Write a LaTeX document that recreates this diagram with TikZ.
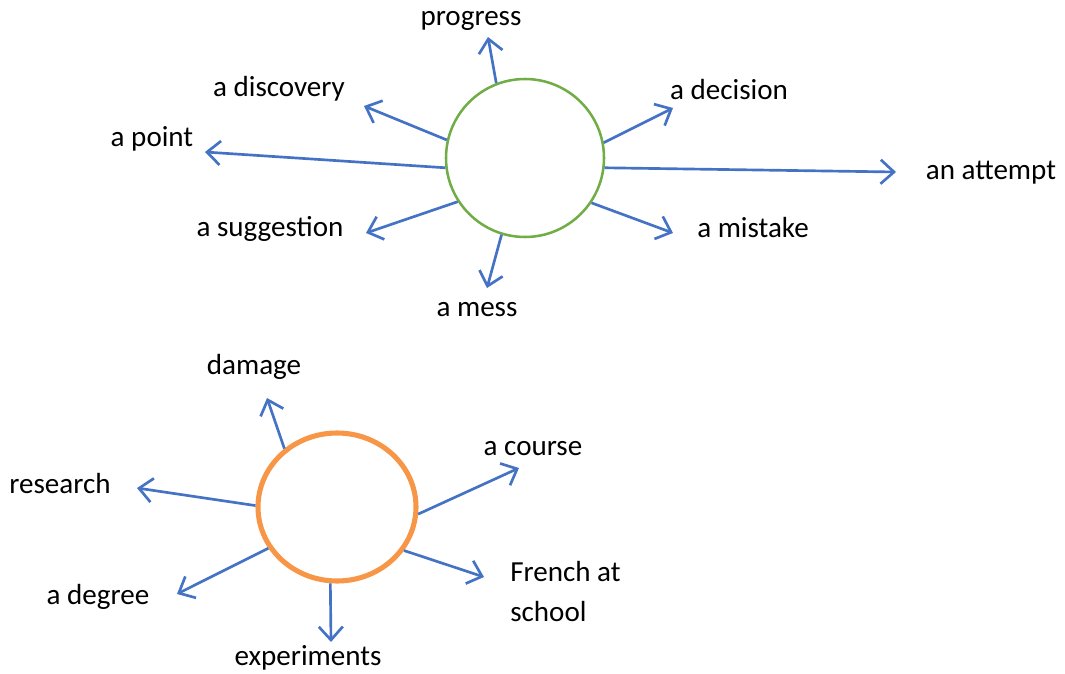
\documentclass[tikz,border=0pt]{standalone}
\usepackage{fontspec}
\setmainfont{Carlito}
\usetikzlibrary{arrows.meta, shapes.geometric}

\definecolor{arrowblue}{RGB}{68,114,196}
\definecolor{ringgreen}{RGB}{112,173,71}
\definecolor{ringorange}{RGB}{247,150,70}

\tikzset{
  word/.style={font=\fontsize{21.8}{30}\selectfont, inner sep=0pt, yshift=-2pt},
  pointer/.style={draw=arrowblue, line width=2pt, -{Straight Barb[length=10pt, width=18pt, line width=2pt]}},
}

\begin{document}
\begin{tikzpicture}[x=0.75pt, y=-0.75pt]
  \useasboundingbox (0,0) rectangle (1065,674);
  % upper ring
  \node [circle, draw=ringgreen, line width=1.9pt, minimum size=118.5pt, inner sep=0pt] (make) at (525,158) {};
  \node [word] (progress) at (471,18) {progress};
  \node [word] (discovery) at (279,86) {a discovery};
  \node [word] (point) at (152,136) {a point};
  \node [word] (suggestion) at (270,226) {a suggestion};
  \node [word] (mess) at (477,307) {a mess};
  \node [word] (mistake) at (753,225) {a mistake};
  \node [word] (attempt) at (991,170) {an attempt};
  \node [word] (decision) at (729,87) {a decision};
  \coordinate (progress tip) at (488,37);
  \coordinate (discovery tip) at (364,106);
  \coordinate (point tip) at (205,152);
  \coordinate (suggestion tip) at (366,233);
  \coordinate (mess tip) at (487,288);
  \coordinate (mistake tip) at (673,233);
  \coordinate (attempt tip) at (896,172);
  \coordinate (decision tip) at (673,108);
  \draw [pointer] (make.111) -- (progress tip);
  \draw [pointer] (make.167) -- (discovery tip);
  \draw [pointer] (make.187) -- (point tip);
  \draw [pointer] (make.213) -- (suggestion tip);
  \draw [pointer] (make.253) -- (mess tip);
  \draw [pointer] (make.326) -- (mistake tip);
  \draw [pointer] (make.353) -- (attempt tip);
  \draw [pointer] (make.11) -- (decision tip);
  % lower ring
  \node [ellipse, draw=ringorange, line width=3.8pt, minimum width=118.5pt, minimum height=111pt, inner sep=0pt] (do) at (337,507) {};
  \node [word] (damage) at (254,364) {damage};
  \node [word] (research) at (60,481) {research};
  \node [word] (degree) at (98,594) {a degree};
  \node [word] (experiments) at (308,655) {experiments};
  \node [word, align=left, anchor=west] (french) at (510,589) {French at\\school};
  \node [word] (course) at (533,446) {a course};
  \coordinate (damage tip) at (267,398);
  \coordinate (research tip) at (137,488);
  \coordinate (degree tip) at (177,594);
  \coordinate (experiments tip) at (331,642);
  \coordinate (french tip) at (484,577);
  \coordinate (course tip) at (519,468);
  \draw [pointer] (do.132) -- (damage tip);
  \draw [pointer] (do.179) -- (research tip);
  \draw [pointer] (do.211) -- (degree tip);
  \draw [pointer] (do.265) -- (experiments tip);
  \draw [pointer] (do.327) -- (french tip);
  \draw [pointer] (do.355) -- (course tip);
\end{tikzpicture}
\end{document}
